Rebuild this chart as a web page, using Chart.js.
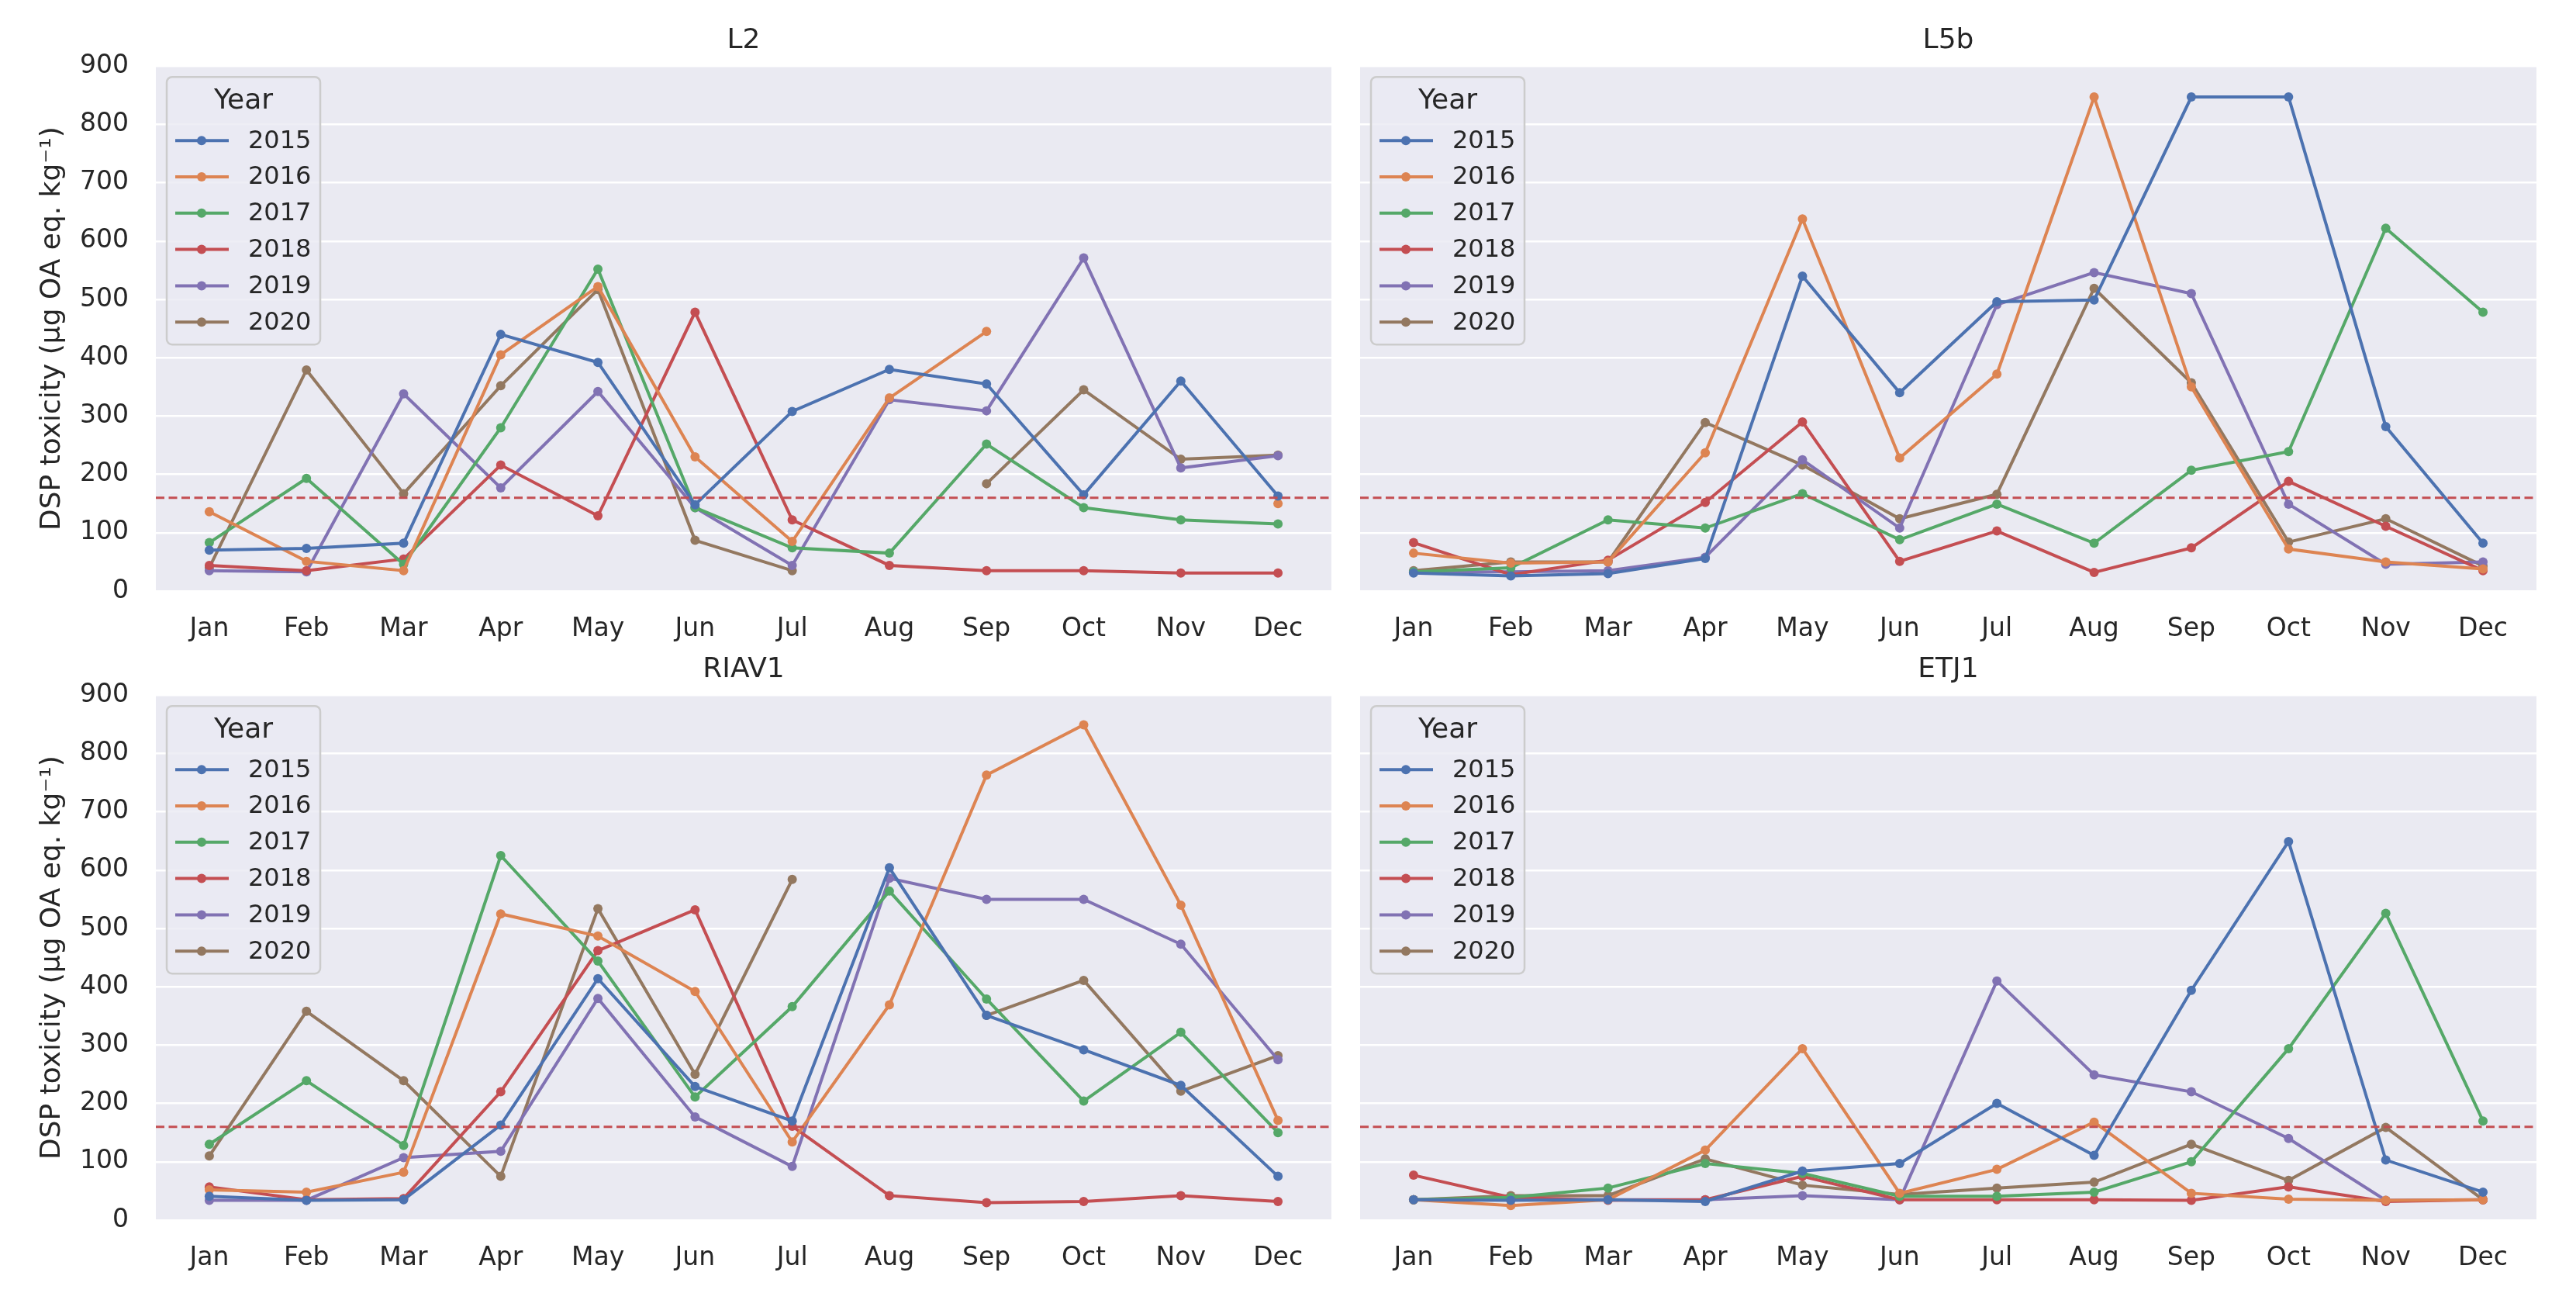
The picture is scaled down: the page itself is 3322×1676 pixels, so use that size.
<!DOCTYPE html>
<html>
<head>
<meta charset="utf-8">
<script src="https://cdn.jsdelivr.net/npm/chart.js@4.4.0/dist/chart.umd.min.js"></script>
<style>
  html, body { margin: 0; padding: 0; background: #ffffff; }
  body { width: 3322px; height: 1676px; position: relative; overflow: hidden; }
  canvas { position: absolute; }
</style>
</head>
<body>
<canvas id="panelL2" width="1740" height="840" style="left:0px;top:0px"></canvas>
<canvas id="panelL5b" width="1592" height="840" style="left:1730px;top:0px"></canvas>
<canvas id="panelRIAV1" width="1740" height="840" style="left:0px;top:811px"></canvas>
<canvas id="panelETJ1" width="1592" height="840" style="left:1730px;top:811px"></canvas>
<script>
const months = ["Jan", "Feb", "Mar", "Apr", "May", "Jun", "Jul", "Aug", "Sep", "Oct", "Nov", "Dec"];
const years = ["2015", "2016", "2017", "2018", "2019", "2020"];
const yearColors = ["#4c72b0", "#dd8452", "#55a868", "#c44e52", "#8172b3", "#937860"];
const threshold = 160;
const yTicks = [0, 100, 200, 300, 400, 500, 600, 700, 800, 900];
const yLabel = "DSP toxicity (μg OA eq. kg⁻¹)";

// one row per year (2015..2020), one value per month, null = no sample
const l2Values = [
    [70, 73, 82, 440, 392, 148, 308, 380, 355, 165, 360, 163],
    [136, 51, 35, 405, 522, 230, 85, 331, 445, null, null, 150],
    [83, 193, 46, 280, 552, 143, 74, 65, 252, 143, 122, 115],
    [44, 35, 55, 216, 129, 478, 122, 44, 35, 35, 31, 31],
    [35, 33, 338, 177, 342, 143, 44, 328, 309, 571, 211, 232],
    [40, 379, 167, 352, 517, 87, 35, null, 184, 345, 226, 233]
];
const l5bValues = [
    [31, 26, 30, 56, 540, 340, 496, 499, 847, 847, 282, 82],
    [65, 48, 50, 237, 638, 228, 372, 847, 350, 72, 50, 38],
    [33, 40, 122, 108, 167, 88, 149, 82, 207, 239, 622, 478],
    [83, 28, 53, 152, 290, 51, 103, 32, 74, 188, 111, 35],
    [33, 33, 35, 58, 225, 108, 491, 546, 510, 149, 46, 50],
    [35, 50, 50, 289, 216, 124, 166, 519, 357, 84, 124, 43]
];
const riav1Values = [
    [41, 34, 35, 163, 414, 229, 170, 604, 351, 292, 231, 75],
    [52, 48, 82, 525, 487, 392, 134, 369, 763, 849, 540, 171],
    [130, 239, 128, 625, 444, 211, 366, 564, 379, 204, 322, 150],
    [57, 35, 37, 220, 462, 532, 161, 42, 30, 32, 42, 32],
    [34, 34, 107, 118, 380, 177, 92, 586, 550, 550, 473, 275],
    [110, 358, 239, 75, 534, 250, 584, null, 351, 411, 221, 282]
];
const etj1Values = [
    [35, 34, 35, 32, 84, 97, 200, 111, 394, 649, 103, 48],
    [35, 25, 35, 120, 294, 46, 87, 168, 46, 36, 34, 35],
    [35, 39, 55, 97, 80, 41, 41, 48, 100, 294, 526, 170],
    [77, 39, 34, 35, 75, 35, 35, 35, 34, 57, 32, 35],
    [35, 35, 35, 35, 42, 35, 410, 249, 220, 140, 34, 35],
    [35, 42, 42, 105, 60, 44, 55, 65, 130, 68, 159, 35]
];

const FONT = "'DejaVu Sans', sans-serif";
const INK = "#262626";

// grey plot background
const areaBackground = {
    id: "areaBackground",
    beforeDraw(chart) {
        const a = chart.chartArea;
        const ctx = chart.ctx;
        ctx.save();
        ctx.fillStyle = "#eaeaf2";
        ctx.fillRect(a.left, a.top, a.right - a.left, a.bottom - a.top);
        ctx.restore();
    }
};

// dashed limit line + legend box
const overlays = {
    id: "overlays",
    afterDatasetsDraw(chart) {
        const a = chart.chartArea;
        const ctx = chart.ctx;
        const y = chart.scales.y.getPixelForValue(threshold);
        ctx.save();
        ctx.strokeStyle = "#c44e52";
        ctx.lineWidth = 3;
        ctx.setLineDash([11, 5.5]);
        ctx.beginPath();
        ctx.moveTo(a.left, y);
        ctx.lineTo(a.right, y);
        ctx.stroke();
        ctx.setLineDash([]);

        // legend
        const bx = a.left + 14, by = a.top + 14, bw = 198, bh = 345;
        ctx.beginPath();
        ctx.roundRect(bx, by, bw, bh, 7);
        ctx.fillStyle = "rgba(234,234,242,0.8)";
        ctx.fill();
        ctx.strokeStyle = "#cccccc";
        ctx.lineWidth = 2.5;
        ctx.stroke();

        ctx.fillStyle = INK;
        ctx.textAlign = "center";
        ctx.textBaseline = "middle";
        ctx.font = "36px " + FONT;
        ctx.fillText("Year", bx + bw / 2, a.top + 45);

        ctx.font = "32px " + FONT;
        ctx.textAlign = "left";
        chart.data.datasets.forEach((ds, i) => {
            const ly = a.top + 96 + i * 46.8;
            ctx.strokeStyle = ds.borderColor;
            ctx.lineWidth = 4;
            ctx.beginPath();
            ctx.moveTo(a.left + 25, ly);
            ctx.lineTo(a.left + 94, ly);
            ctx.stroke();
            ctx.fillStyle = ds.borderColor;
            ctx.beginPath();
            ctx.arc(a.left + 59, ly, 6, 0, Math.PI * 2);
            ctx.fill();
            ctx.fillStyle = INK;
            ctx.fillText(ds.label, a.left + 119, ly + 1);
        });
        ctx.restore();
    }
};

function makePanel(canvasId, title, values, showY, rightPad) {
    const datasets = years.map((yr, i) => ({
        label: yr,
        data: values[i].map((v, m) => ({ x: m, y: v })),
        borderColor: yearColors[i],
        backgroundColor: yearColors[i],
        pointBackgroundColor: yearColors[i],
        pointBorderWidth: 0,
        pointRadius: 6,
        borderWidth: 4,
        tension: 0,
        spanGaps: false
    }));

    return new Chart(document.getElementById(canvasId), {
        type: "line",
        data: { datasets: datasets },
        options: {
            responsive: false,
            animation: false,
            devicePixelRatio: 1,
            layout: { padding: { left: 0, right: rightPad, top: 0, bottom: 0 } },
            plugins: {
                legend: { display: false },
                tooltip: { enabled: false },
                title: {
                    display: true,
                    text: title,
                    fullSize: false,
                    color: INK,
                    font: { family: FONT, size: 36, weight: "normal" },
                    padding: { top: 31, bottom: 11 }
                }
            },
            scales: {
                x: {
                    type: "linear",
                    min: -0.55,
                    max: 11.55,
                    grid: { display: false },
                    border: { display: false },
                    afterBuildTicks: (scale) => {
                        scale.ticks = months.map((m, i) => ({ value: i }));
                    },
                    ticks: {
                        autoSkip: false,
                        maxRotation: 0,
                        padding: 22,
                        color: INK,
                        font: { family: FONT, size: 33 },
                        callback: (v) => months[v]
                    },
                    afterFit: (scale) => { scale.height = 78; }
                },
                y: {
                    min: 0,
                    max: 900,
                    grid: { color: "#ffffff", lineWidth: 2.5, drawTicks: false },
                    border: { display: false },
                    afterBuildTicks: (scale) => {
                        scale.ticks = yTicks.map((v) => ({ value: v }));
                    },
                    ticks: {
                        display: showY,
                        padding: 35,
                        color: INK,
                        font: { family: FONT, size: 33 }
                    },
                    title: {
                        display: showY,
                        text: yLabel,
                        color: INK,
                        font: { family: FONT, size: 36 },
                        padding: { top: 46, bottom: 0 }
                    },
                    afterFit: (scale) => { scale.width = showY ? 201 : 24; }
                }
            }
        },
        plugins: [areaBackground, overlays]
    });
}

makePanel("panelL2", "L2", l2Values, true, 23);
makePanel("panelL5b", "L5b", l5bValues, false, 51);
makePanel("panelRIAV1", "RIAV1", riav1Values, true, 23);
makePanel("panelETJ1", "ETJ1", etj1Values, false, 51);
</script>
</body>
</html>
